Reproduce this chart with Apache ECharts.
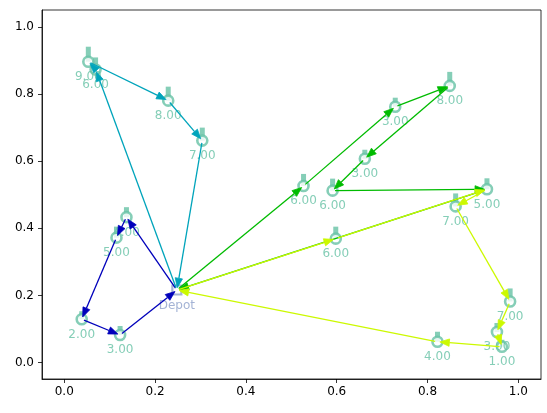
<!DOCTYPE html>
<html>
<head>
<meta charset="utf-8">
<script src="https://cdn.jsdelivr.net/npm/echarts@6/dist/echarts.min.js"></script>
<style>html,body{margin:0;padding:0;background:#fff}#main{width:547px;height:413px}</style>
</head>
<body>
<div id="main"></div>
<script>
// 节点坐标（下标 0 为 Depot）
var nodeX = [0.248, 0.137, 0.115, 0.0385, 0.123, 0.069, 0.053, 0.229, 0.304, 0.527, 0.729, 0.849, 0.662, 0.591, 0.931, 0.598, 0.862, 0.982, 0.953, 0.964, 0.822];
var nodeY = [0.216, 0.433, 0.372, 0.129, 0.082, 0.873, 0.896, 0.780, 0.661, 0.526, 0.762, 0.824, 0.607, 0.512, 0.516, 0.369, 0.465, 0.182, 0.091, 0.047, 0.062];
// 每个客户的需求量
var demand = [0, 4, 5, 2, 3, 6, 9, 8, 7, 6, 3, 8, 3, 6, 5, 6, 7, 7, 3, 1, 4];
// 车辆路线（节点下标）
var routes = [
	[0, 1, 2, 3, 4, 0],
	[0, 5, 6, 7, 8, 0],
	[0, 9, 10, 11, 12, 13, 14, 0],
	[0, 15, 14, 16, 17, 18, 19, 20, 0]
];
var routeColors = ['#0000bb', '#00a4bb', '#00bb00', '#ccf900'];
var tickValues = [0, 0.2, 0.4, 0.6, 0.8, 1.0];

var nodeColor = '#66c2a5';
var depotColor = '#8da0cb';
var font = 'DejaVu Sans';

var myChart = echarts.init(document.getElementById('main'));

// 客户点数据
var customerData = [];
var barData = [];
for (var i = 1; i < nodeX.length; i++) {
	customerData.push([nodeX[i], nodeY[i], demand[i]]);
	var h = 6 + demand[i];
	barData.push({
		value: [nodeX[i], nodeY[i], demand[i]],
		symbolSize: [5, h],
		symbolOffset: [0, -h / 2]
	});
}

// 箭头：从 a 指向 b
function renderArrow(params, api) {
	var a = api.coord([api.value(0), api.value(1)]);
	var b = api.coord([api.value(2), api.value(3)]);
	var dx = b[0] - a[0], dy = b[1] - a[1];
	var len = Math.sqrt(dx * dx + dy * dy) || 1;
	var ux = dx / len, uy = dy / len;
	var shrink = 2.4, headL = 9.5, headW = 3.7;
	var sx = a[0] + ux * shrink, sy = a[1] + uy * shrink;
	var tx = b[0] - ux * shrink, ty = b[1] - uy * shrink;
	var bx = tx - ux * headL, by = ty - uy * headL;
	var color = routeColors[api.value(4)];
	return {
		type: 'group',
		children: [{
			type: 'line',
			shape: {x1: sx, y1: sy, x2: bx, y2: by},
			style: {stroke: color, lineWidth: 1.3}
		}, {
			type: 'polygon',
			shape: {points: [[tx, ty], [bx - uy * headW, by + ux * headW], [bx + uy * headW, by - ux * headW]]},
			style: {fill: color, stroke: color, lineWidth: 0.8}
		}]
	};
}

var routeSeries = routes.map(function(route, r) {
	var segs = [];
	for (var k = 0; k < route.length - 1; k++) {
		var p = route[k], q = route[k + 1];
		segs.push([nodeX[p], nodeY[p], nodeX[q], nodeY[q], r]);
	}
	return {
		type: 'custom',
		renderItem: renderArrow,
		encode: {x: [0, 2], y: [1, 3]},
		data: segs,
		silent: true,
		z: 10 + r
	};
});

var option = {
	animation: false,
	backgroundColor: '#fff',
	textStyle: {fontFamily: font},
	grid: {
		left: 42,
		right: 6,
		top: 10,
		bottom: 34,
		show: true,
		borderColor: '#000',
		borderWidth: 0.8
	},
	xAxis: {
		type: 'value',
		min: -0.049,
		max: 1.05,
		splitLine: {show: false},
		axisLine: {show: true, onZero: false, lineStyle: {color: '#000', width: 0.8}},
		axisTick: {show: true, customValues: tickValues, length: 4, lineStyle: {color: '#000', width: 0.8}},
		axisLabel: {
			customValues: tickValues,
			formatter: function(v) { return v.toFixed(1); },
			color: '#000',
			fontSize: 12,
			fontFamily: font,
			margin: 7
		}
	},
	yAxis: {
		type: 'value',
		min: -0.049,
		max: 1.05,
		splitLine: {show: false},
		axisLine: {show: true, onZero: false, lineStyle: {color: '#000', width: 0.8}},
		axisTick: {show: true, customValues: tickValues, length: 4, lineStyle: {color: '#000', width: 0.8}},
		axisLabel: {
			customValues: tickValues,
			formatter: function(v) { return v.toFixed(1); },
			color: '#000',
			fontSize: 12,
			fontFamily: font,
			margin: 8
		}
	},
	series: [{
		// 需求柱
		type: 'scatter',
		symbol: 'rect',
		data: barData,
		itemStyle: {color: nodeColor},
		silent: true,
		z: 2
	}, {
		// 客户点
		type: 'scatter',
		symbol: 'circle',
		symbolSize: 10,
		data: customerData,
		itemStyle: {color: '#fff', borderColor: nodeColor, borderWidth: 2.6},
		label: {
			show: true,
			position: 'bottom',
			distance: 3,
			color: nodeColor,
			fontSize: 12,
			fontFamily: font,
			formatter: function(p) { return p.value[2].toFixed(2); }
		},
		silent: true,
		z: 3
	}, {
		// Depot
		type: 'scatter',
		symbol: 'rect',
		symbolSize: 9,
		data: [[nodeX[0], nodeY[0]]],
		itemStyle: {color: 'rgba(255,255,255,0)', borderColor: depotColor, borderWidth: 2.2},
		label: {
			show: true,
			position: 'bottom',
			distance: 4,
			color: depotColor,
			fontSize: 12,
			fontFamily: font,
			formatter: 'Depot'
		},
		silent: true,
		z: 3
	}].concat(routeSeries)
};

myChart.setOption(option);
</script>
</body>
</html>
